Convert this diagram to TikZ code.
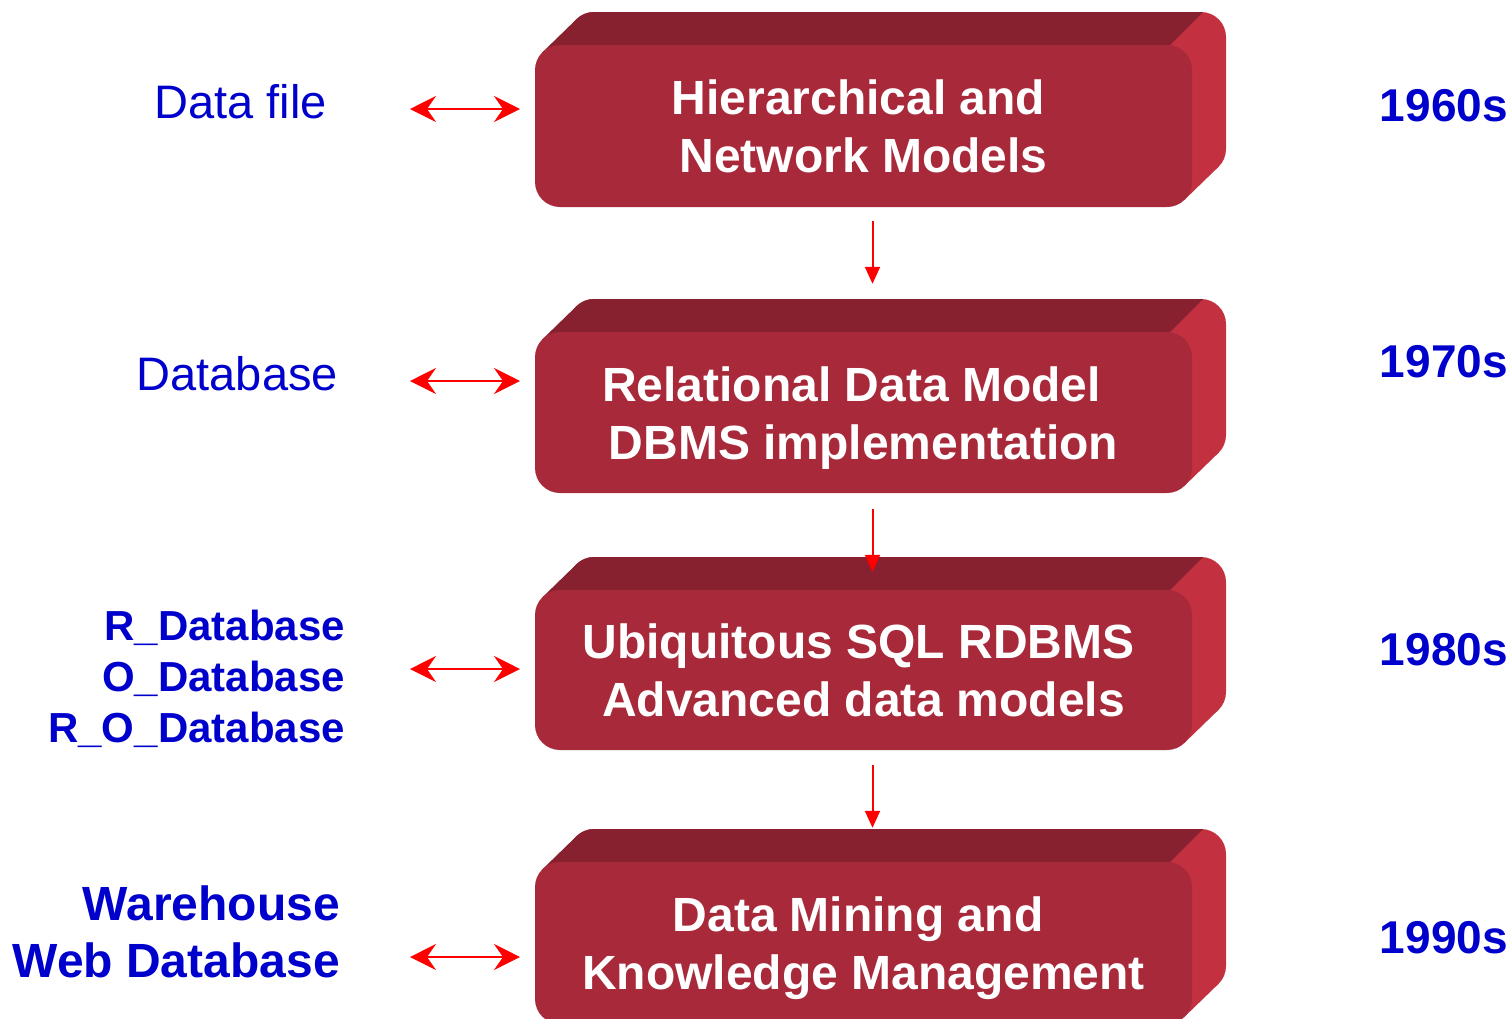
\documentclass[tikz,border=0pt]{standalone}
\usepackage{fontspec}
\setmainfont{Liberation Sans}
\usetikzlibrary{arrows.meta}

\definecolor{frontc}{RGB}{168,41,58}
\definecolor{topc}{RGB}{135,33,47}
\definecolor{sidec}{RGB}{195,48,64}
\definecolor{labelblue}{RGB}{0,0,204}
\definecolor{arrowred}{RGB}{255,0,0}

\tikzset{
  frontbox/.style={fill=frontc, rounded corners=25pt, minimum width=657pt,
    inner sep=0pt, text=white, align=center,
    font=\fontsize{48}{58}\selectfont\bfseries},
  eralabel/.style={text=labelblue, inner sep=0pt, anchor=east, align=right},
  yearlabel/.style={text=labelblue, inner sep=0pt, anchor=east,
    font=\fontsize{46}{52}\selectfont\bfseries},
  linkarrow/.style={draw=arrowred, line width=2.5pt,
    {Stealth[length=26pt,width=26pt,inset=9pt]}-{Stealth[length=26pt,width=26pt,inset=9pt]}},
  flowarrow/.style={draw=arrowred, line width=2pt,
    -{Triangle[length=17pt,width=15pt]}},
}

% extruded back part of a box whose front face runs from y=#1 (top) to y=#2 (bottom);
% the back face is the front face moved by (34,-33)
\newcommand{\boxdepth}[2]{%
  % right side and back face
  \fill[sidec, rounded corners=25pt] (569,#1-33) rectangle (1226,#2-33);
  \fill[sidec] (1184.4,#2-7.1) -- (1218.4,#2-40.1) -- (1218.4,#1) -- (1184.4,#1) -- cycle;
  % top face, left of the seam at the top right corner
  \begin{scope}
    \clip (500,#1+40) -- (500,#1-50) -- (1220,#1-50) -- (1130,#1+40) -- cycle;
    \fill[topc, rounded corners=25pt] (569,#1-33) rectangle (1226,#2-33);
  \end{scope}
  \fill[topc] (542.6,#1+7.1) -- (576.6,#1-25.9) -- (700,#1-25.9)
    -- (700,#1+25) -- (542.6,#1+25) -- cycle;
}

\begin{document}
\begin{tikzpicture}[x=1pt,y=-1pt]
\useasboundingbox (0,0) rectangle (1512,1018);
\clip (0,0) rectangle (1512,1018);

% stacked era boxes
\boxdepth{45}{207}
\node[frontbox, minimum height=162pt] (b1) at (863.5,126)
  {Hierarchical and\rule{10pt}{0pt}\\Network Models};
\boxdepth{332}{493}
\node[frontbox, minimum height=161pt] (b2) at (863.5,412.5)
  {\rule{0pt}{45pt}Relational Data Model\rule{24pt}{0pt}\\DBMS implementation};
\boxdepth{590}{750}
\node[frontbox, minimum height=160pt] (b3) at (863.5,670)
  {Ubiquitous SQL RDBMS\rule{10pt}{0pt}\\Advanced data models};
\boxdepth{862}{1024}
\node[frontbox, minimum height=162pt] (b4) at (863.5,943)
  {\rule{0pt}{45pt}Data Mining and\rule{11pt}{0pt}\\Knowledge Management};

% flow between eras
\draw[flowarrow, shorten <=14pt, shorten >=48pt]
  ([xshift=9pt]b1.south) -- ([xshift=9pt]b2.north);
\draw[flowarrow, shorten <=16pt, shorten >=18pt]
  ([xshift=9pt]b2.south) -- ([xshift=9pt]b3.north);
\draw[flowarrow, shorten <=15pt, shorten >=34pt]
  ([xshift=9pt]b3.south) -- ([xshift=9pt]b4.north);

% data organisation of each era
\node[eralabel, font=\fontsize{47}{56}\selectfont] (d1) at (327,102) {Data file};
\node[eralabel, font=\fontsize{47}{56}\selectfont] (d2) at (338,374) {Database};
\node[eralabel, font=\fontsize{42}{51}\selectfont\bfseries] (d3) at (345,679)
  {R\_Database\\O\_Database\\R\_O\_Database};
\node[eralabel, font=\fontsize{48}{57}\selectfont\bfseries] (d4) at (340,932)
  {Warehouse\\Web Database};

\coordinate (l1) at (410,109);  \coordinate (r1) at (520,109);
\coordinate (l2) at (410,381);  \coordinate (r2) at (520,381);
\coordinate (l3) at (410,669);  \coordinate (r3) at (520,669);
\coordinate (l4) at (410,957);  \coordinate (r4) at (520,957);
\draw[linkarrow] (l1) -- (r1);
\draw[linkarrow] (l2) -- (r2);
\draw[linkarrow] (l3) -- (r3);
\draw[linkarrow] (l4) -- (r4);

% decades
\node[yearlabel] (y1) at (1508,106) {1960s};
\node[yearlabel] (y2) at (1508,362) {1970s};
\node[yearlabel] (y3) at (1508,650) {1980s};
\node[yearlabel] (y4) at (1508,938) {1990s};
\end{tikzpicture}
\end{document}
